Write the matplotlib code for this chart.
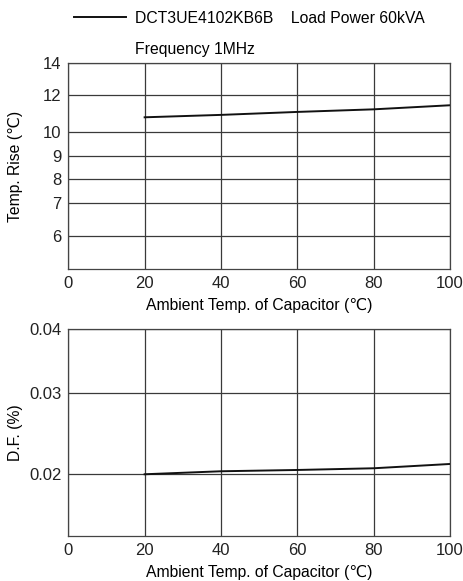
import numpy as np
import matplotlib
matplotlib.use('Agg')
import matplotlib.pyplot as plt

plt.rcParams['font.family'] = ['Liberation Sans', 'DejaVu Sans']
plt.rcParams['font.size'] = 11

# data
temp = [20, 40, 60, 80, 100]
temp_rise = [10.81, 10.94, 11.10, 11.24, 11.46]
df_pct = [0.0200, 0.02037, 0.02053, 0.02074, 0.02127]

x_ticks = [0, 20, 40, 60, 80, 100]
rise_ticks = [6, 7, 8, 9, 10, 12, 14]
df_ticks = [0.02, 0.03, 0.04]
df_ticklabels = ['0.02', '0.03', '0.04']

# the printed chart uses an irregular y grid, so map it piecewise
rise_knots = [5, 6, 7, 8, 9, 10, 12, 14]
rise_frac = [0, 0.1602, 0.3233, 0.4369, 0.5485, 0.6650, 0.8447, 1.0]
df_knots = [0.015, 0.02, 0.03, 0.04]
df_frac = [0, 0.2985, 0.6904, 1.0]


def piecewise(knots, frac):
    fwd = lambda v: np.interp(v, knots, frac)
    inv = lambda p: np.interp(p, frac, knots)
    return fwd, inv


fig = plt.figure(figsize=(4.64, 5.81), dpi=100)
ax1 = fig.add_axes([0.1472, 0.5365, 0.8226, 0.3546])
ax2 = fig.add_axes([0.1472, 0.0775, 0.8226, 0.3558])

grid_kw = dict(color='#3a3a3a', linewidth=0.9)

for ax in (ax1, ax2):
    ax.set_xlim(0, 100)
    ax.set_xticks(x_ticks)
    ax.tick_params(length=0, pad=5, labelsize=12, colors='#222222')
    ax.grid(True, **grid_kw)
    for s in ax.spines.values():
        s.set_color('#444444')
        s.set_linewidth(0.9)
    ax.set_xlabel('Ambient Temp. of Capacitor (\u2103)', fontsize=11.3, labelpad=5)
    ax.yaxis.set_label_coords(-0.118, 0.5)

ax1.set_yscale('function', functions=piecewise(rise_knots, rise_frac))
ax1.set_ylim(5, 14)
ax1.set_yticks(rise_ticks)
ax1.set_yticklabels([str(t) for t in rise_ticks])
ax1.set_ylabel('Temp. Rise (\u2103)', fontsize=11.3)
line, = ax1.plot(temp, temp_rise, color='#111111', linewidth=1.4,
                 label='DCT3UE4102KB6B    Load Power 60kVA')

ax2.set_yscale('function', functions=piecewise(df_knots, df_frac))
ax2.set_ylim(0.015, 0.04)
ax2.set_yticks(df_ticks)
ax2.set_yticklabels(df_ticklabels)
ax2.set_ylabel('D.F. (%)', fontsize=11.3)
ax2.plot(temp, df_pct, color='#111111', linewidth=1.4)

fig.legend(handles=[line], loc='center left', bbox_to_anchor=(0.159, 0.969),
           frameon=False, fontsize=11.3, handlelength=3.3, handletextpad=0.62,
           borderpad=0.0, borderaxespad=0.0)
fig.text(0.291, 0.914, 'Frequency 1MHz', fontsize=11.3, va='center', ha='left')

fig.savefig('out.png', dpi=100)
